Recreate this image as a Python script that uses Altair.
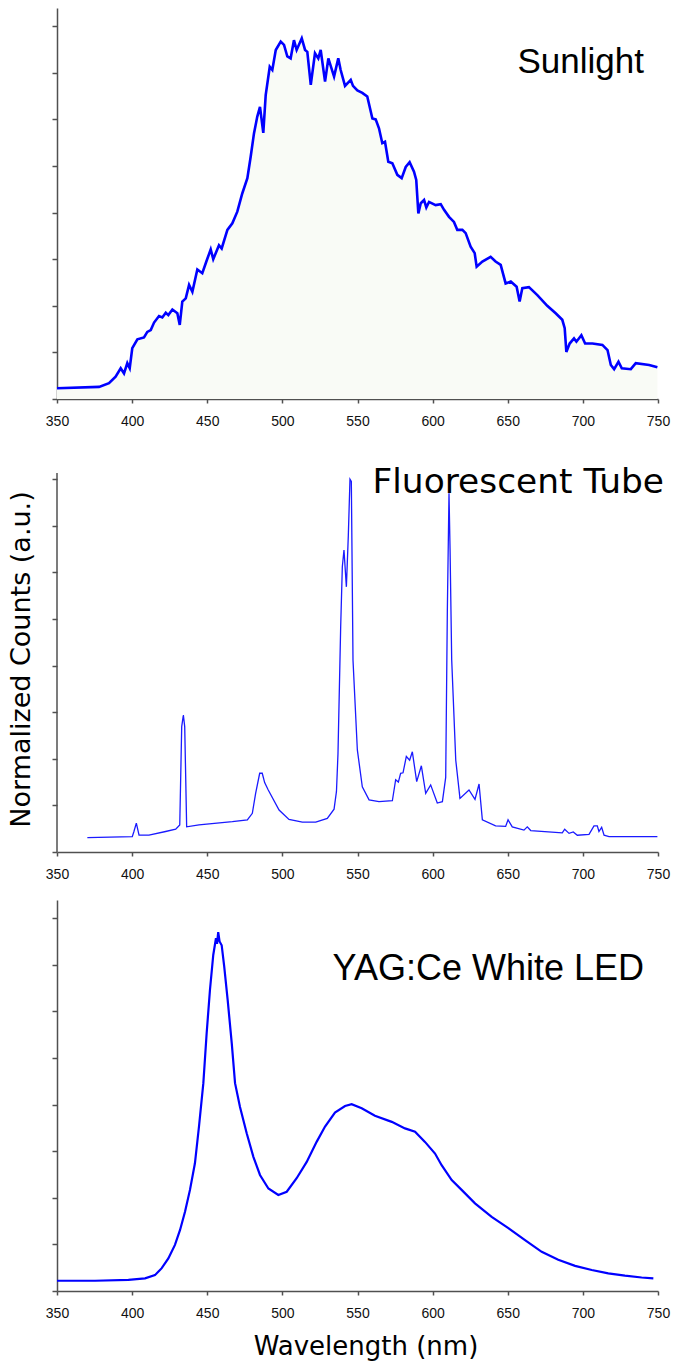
import altair as alt
import pandas as pd

# ---------------- data ----------------
sun_wl = [350, 378, 384.6, 389, 392.4, 394.6, 396.8, 398.4, 400.1, 403.5, 407.9, 410.1, 412.4,
          414.6, 417.9, 420.1, 422.4, 424.1, 426.8, 430.1, 431.7, 433.4, 435.7, 437.9, 440.1,
          443.4, 446.7, 449.4, 452.3, 454.0, 457.8, 459.6, 463.4, 466.7, 470.0, 473.3, 476.7,
          478.9, 481.1, 483.3, 485.1, 487.3, 488.9, 491.6, 493.3, 495.6, 498.9, 501.1, 503.3,
          505.5, 507.7, 509.5, 512.9, 515.1, 516.6, 518.9, 521.7, 523.9, 525.5, 528.4, 530.6,
          534.4, 537.2, 538.8, 541.7, 545.5, 547.0, 549.9, 553.2, 556.5, 559.9, 562.1, 564.3,
          566.5, 568.3, 570.5, 573.2, 576.5, 579.4, 582.1, 584.7, 587.6, 589.1, 590.5, 592.1,
          594.3, 595.8, 597.6, 602.0, 605.4, 607.6, 610.9, 614.2, 616.4, 619.8, 622.0, 625.3,
          628.0, 629.3, 633.1, 638.6, 641.9, 645.3, 648.6, 652.0, 655.9, 657.9, 659.7, 664.1,
          669.7, 676.3, 681.9, 686.3, 687.9, 689.0, 691.2, 694.1, 695.7, 699.0, 701.5, 706.4,
          713.0, 716.4, 718.6, 720.8, 723.7, 725.9, 731.9, 735.2, 744.1, 749.6]
sun_val = [0.23, 0.26, 0.34, 0.48, 0.66, 0.55, 0.77, 0.66, 1.09, 1.28, 1.32, 1.44, 1.48,
           1.64, 1.78, 1.75, 1.85, 1.80, 1.92, 1.84, 1.59, 2.09, 2.16, 2.45, 2.30,
           2.78, 2.70, 2.95, 3.21, 3.00, 3.30, 3.23, 3.63, 3.77, 4.02, 4.41, 4.74,
           5.20, 5.70, 6.06, 6.27, 5.71, 6.52, 7.13, 7.06, 7.49, 7.67, 7.60, 7.35,
           7.31, 7.70, 7.49, 7.74, 7.49, 7.45, 6.74, 7.42, 7.31, 7.49, 6.81, 7.31,
           6.92, 7.31, 7.06, 6.72, 6.85, 6.72, 6.62, 6.57, 6.49, 6.02, 6.00, 5.81,
           5.49, 5.52, 5.09, 5.06, 4.81, 4.74, 4.98, 5.08, 4.88, 4.70, 3.98, 4.20,
           4.27, 4.11, 4.23, 4.16, 4.18, 4.06, 3.91, 3.80, 3.63, 3.63, 3.56, 3.27,
           3.13, 2.84, 2.95, 3.05, 2.95, 2.88, 2.48, 2.52, 2.41, 2.09, 2.38, 2.40,
           2.23, 2.00, 1.84, 1.70, 1.52, 1.01, 1.19, 1.30, 1.23, 1.37, 1.19, 1.19,
           1.16, 1.05, 0.73, 0.64, 0.80, 0.66, 0.64, 0.77, 0.73, 0.68]

flu_wl = [370.2, 400.1, 401.2, 402.8, 404.6, 411.2, 422.3, 429.0, 431.7, 433.0, 434.1, 435.0,
          436.3, 444.5, 466.7, 476.7, 480.0, 482.2, 484.9, 486.6, 488.2, 490.6, 497.8, 504.4,
          513.3, 522.2, 529.9, 534.4, 536.0, 537.0, 538.8, 539.9, 541.0, 542.6, 543.9, 545.0,
          545.9, 547.0, 549.9, 553.2, 557.7, 564.3, 573.2, 575.4, 577.2, 578.7, 580.3, 582.5,
          584.7, 586.5, 589.4, 592.5, 595.4, 598.7, 603.1, 606.5, 608.7, 609.8, 610.9, 611.6,
          612.7, 615.4, 618.2, 624.2, 628.2, 630.9, 633.1, 641.9, 648.6, 650.2, 653.0, 660.8,
          663.0, 665.3, 686.3, 687.9, 690.8, 693.6, 696.3, 704.1, 707.4, 709.6, 710.7, 712.5,
          714.1, 717.4, 749.6]
flu_val = [0.31, 0.33, 0.44, 0.62, 0.36, 0.36, 0.44, 0.49, 0.58, 2.69, 2.94, 2.69,
           0.54, 0.58, 0.65, 0.69, 0.83, 1.26, 1.69, 1.69, 1.49, 1.33, 0.90, 0.70,
           0.64, 0.64, 0.72, 0.92, 1.30, 2.10, 4.83, 6.12, 6.48, 5.69, 6.80, 8.00,
           7.95, 4.12, 2.19, 1.40, 1.12, 1.08, 1.10, 1.55, 1.50, 1.69, 1.70, 2.05,
           1.97, 2.15, 1.51, 1.85, 1.26, 1.44, 1.05, 1.08, 1.60, 5.19, 7.70, 6.50,
           4.12, 1.97, 1.15, 1.33, 1.13, 1.46, 0.69, 0.56, 0.55, 0.69, 0.54, 0.47,
           0.54, 0.46, 0.41, 0.49, 0.40, 0.43, 0.36, 0.38, 0.56, 0.56, 0.44, 0.53,
           0.36, 0.33, 0.33]

led_wl = [350, 375.3, 397.5, 408.6, 415.2, 419.7, 424.1, 428.5, 431.9, 435.2, 438.5, 441.8,
          444.5, 447.4, 449.6, 451.8, 454.0, 455.8, 456.5, 457.3, 458.2, 459.6, 461.3, 463.6,
          466.3, 468.5, 471.8, 476.3, 480.7, 485.1, 490.7, 497.3, 502.9, 509.5, 516.2, 522.8,
          528.4, 535.0, 541.7, 546.1, 552.8, 561.6, 572.8, 581.6, 588.3, 594.9, 601.6, 606.0,
          612.7, 619.3, 628.2, 639.3, 650.4, 661.5, 672.6, 683.6, 694.8, 705.9, 716.9, 728.0,
          739.1, 746.9]
led_val = [0.22, 0.22, 0.24, 0.27, 0.34, 0.49, 0.70, 0.99, 1.31, 1.70, 2.17, 2.74,
           3.53, 4.46, 5.53, 6.46, 7.21, 7.57, 7.45, 7.70, 7.50, 7.42, 6.96, 6.24,
           5.32, 4.46, 3.95, 3.38, 2.88, 2.49, 2.20, 2.06, 2.13, 2.42, 2.77, 3.20,
           3.53, 3.83, 3.97, 4.01, 3.92, 3.76, 3.63, 3.49, 3.42, 3.20, 2.95, 2.70,
           2.38, 2.17, 1.88, 1.59, 1.35, 1.09, 0.84, 0.67, 0.54, 0.45, 0.38, 0.33,
           0.29, 0.27]

panel_titles = ["Sunlight", "Fluorescent Tube", "YAG:Ce White LED"]
x_ticks = [350, 400, 450, 500, 550, 600, 650, 700, 750]
y_ticks = [0, 1, 2, 3, 4, 5, 6, 7, 8]

# ---------------- styling ----------------
W = 601
PX_PER_UNIT = 46.6
GRAY = "#505050"
BLUE = "#0000ff"


def x_axis(title=None):
    kw = dict(values=x_ticks, grid=False, labelFont="Liberation Sans", labelFontSize=14,
              labelColor="#111111", labelPadding=11, tickSize=4, tickColor=GRAY,
              domainColor=GRAY, tickWidth=1.5, domainWidth=1.5, labelFlush=False,
              format="d")
    if title:
        kw.update(title=title, titleFont="DejaVu Sans", titleFontSize=26,
                  titleFontWeight="normal", titleColor="#000000", titlePadding=13,
                  titleX=W / 2 + 8)
    else:
        kw["title"] = None
    return alt.Axis(**kw)


def y_axis(domain=True, title=None, title_y=None):
    kw = dict(values=y_ticks, labels=False, grid=False, tickSize=5, tickColor=GRAY,
              tickWidth=1.5, domain=domain, domainColor=GRAY, domainWidth=1.5)
    if title:
        kw.update(title=title, titleFont="DejaVu Sans", titleFontSize=27,
                  titleFontWeight="normal", titleColor="#000000", titlePadding=16,
                  titleY=title_y)
    else:
        kw["title"] = None
    return alt.Axis(**kw)


def xs(axis):
    return alt.X("wl:Q", scale=alt.Scale(domain=[350, 750], nice=False, zero=False), axis=axis)


def ys(height, axis):
    return alt.Y("v:Q", scale=alt.Scale(domain=[0, height / PX_PER_UNIT], nice=False), axis=axis)


def title_layer(text, x, y, font, size):
    return alt.Chart(pd.DataFrame({"t": [text]})).mark_text(
        align="right", baseline="alphabetic", font=font, fontSize=size, color="#000000"
    ).encode(text="t:N", x=alt.value(x), y=alt.value(y))


# Panel 1: Sunlight
H1 = 391
sun_df = pd.DataFrame({"wl": sun_wl, "v": sun_val})
sun_area = alt.Chart(sun_df).mark_area(color="#f9fbf6").encode(
    x=xs(x_axis()), y=ys(H1, y_axis()))
sun_line = alt.Chart(sun_df).mark_line(color=BLUE, strokeWidth=2.6).encode(
    x=xs(x_axis()), y=ys(H1, y_axis()))
p1 = alt.layer(sun_area, sun_line,
               title_layer(panel_titles[0], 587, 65, "Liberation Sans", 35)
               ).properties(width=W, height=H1)

# Panel 2: Fluorescent tube (extra 26 px blank on top, axis line drawn by a rule)
H2 = 405
TOP2 = 26
flu_df = pd.DataFrame({"wl": flu_wl, "v": flu_val})
flu_line = alt.Chart(flu_df).mark_line(color="#1a1aff", strokeWidth=1.3).encode(
    x=xs(x_axis()),
    y=ys(H2, y_axis(domain=False, title="Normalized Counts (a.u.)", title_y=212)))
flu_axis_line = alt.Chart(pd.DataFrame({"k": [0]})).mark_rule(
    color=GRAY, strokeWidth=1.5).encode(x=alt.value(0), y=alt.value(TOP2), y2=alt.value(H2))
p2 = alt.layer(flu_line, flu_axis_line,
               title_layer(panel_titles[1], 607, 46, "DejaVu Sans", 34.4)
               ).properties(width=W, height=H2)

# Panel 3: YAG:Ce white LED
H3 = 391
led_df = pd.DataFrame({"wl": led_wl, "v": led_val})
led_line = alt.Chart(led_df).mark_line(color=BLUE, strokeWidth=2.2).encode(
    x=xs(x_axis("Wavelength (nm)")), y=ys(H3, y_axis()))
p3 = alt.layer(led_line,
               title_layer(panel_titles[2], 587, 80, "Liberation Sans", 36)
               ).properties(width=W, height=H3)

chart = alt.vconcat(p1, p2, p3, spacing=48, bounds="flush").properties(
    padding={"left": 7, "top": 8, "right": 5, "bottom": 5},
    background="#ffffff"
).configure_view(stroke=None, strokeWidth=0)

chart.save("out.html", embed_options={"renderer": "svg", "actions": False})
